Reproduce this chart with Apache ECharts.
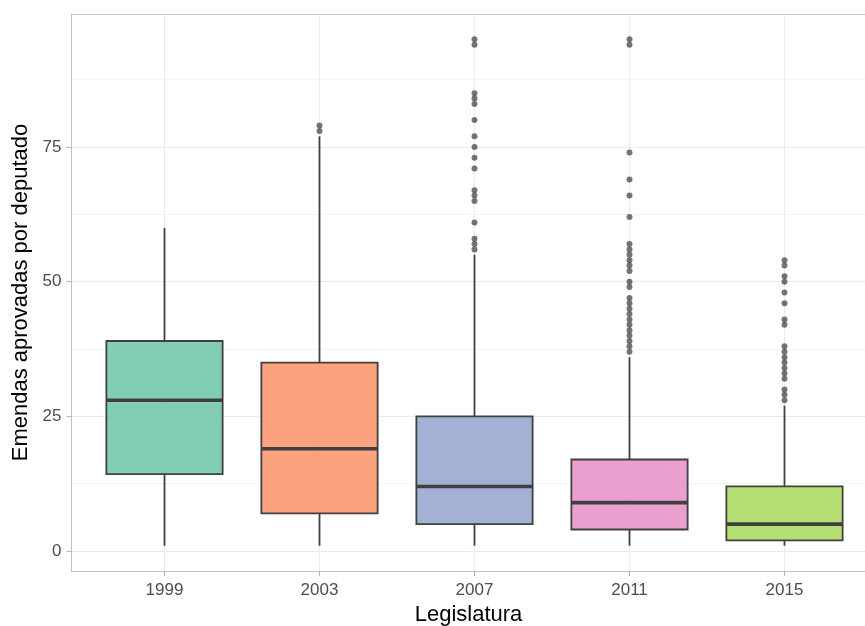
<!DOCTYPE html>
<html>
<head>
<meta charset="utf-8">
<script src="https://cdn.jsdelivr.net/npm/echarts@6/dist/echarts.min.js"></script>
<style>html,body{margin:0;padding:0;background:#fff;}#c{width:865px;height:626px;}</style>
</head>
<body>
<div id="c"></div>
<script>
// ---- data ----
const years = ['1999', '2003', '2007', '2011', '2015'];
const lowerWhisker = [1, 1, 1, 1, 1];
const q1 = [14.3, 7, 5, 4, 2];
const median = [28, 19, 12, 9, 5];
const q3 = [39, 35, 25, 17, 12];
const upperWhisker = [60, 77, 55, 36, 27];
const outliers1999 = [];
const outliers2003 = [79, 78];
const outliers2007 = [95, 94, 85, 84, 83, 80, 77, 75, 73, 71, 67, 66, 65, 61, 58, 57, 56];
const outliers2011 = [95, 94, 74, 69, 66, 62, 57, 56, 55, 54, 53, 52, 50, 49, 47, 46, 45, 44, 43, 42, 41, 40, 39, 38, 37];
const outliers2015 = [54, 53, 51, 50, 48, 46, 43, 42, 38, 37, 36, 35, 34, 33, 32, 30, 29, 28];
const yTicks = [0, 25, 50, 75];
const yMinorGrid = [12.5, 37.5, 62.5, 87.5];

// ---- styles ----
const fills = ['rgba(102,194,165,0.82)', 'rgba(252,141,98,0.82)', 'rgba(141,160,203,0.82)', 'rgba(231,138,195,0.82)', 'rgba(166,216,84,0.82)'];
const edge = '#404040';
const borderColor = '#c2c2c2';
const font = '"Liberation Sans", Arial, sans-serif';

const positions = years.map((y, i) => i + 1);
const boxData = years.map((y, i) => [positions[i], lowerWhisker[i], q1[i], median[i], q3[i], upperWhisker[i]]);
const outlierLists = [outliers1999, outliers2003, outliers2007, outliers2011, outliers2015];
const outlierData = [];
outlierLists.forEach((arr, i) => arr.forEach(v => outlierData.push([positions[i], v])));

const gridMarks = [];
yTicks.forEach(v => gridMarks.push({ yAxis: v, lineStyle: { color: '#ebebeb', width: 1, type: 'solid' } }));
yMinorGrid.forEach(v => gridMarks.push({ yAxis: v, lineStyle: { color: '#f3f3f3', width: 1, type: 'solid' } }));
positions.forEach(p => gridMarks.push({ xAxis: p, lineStyle: { color: '#ebebeb', width: 1, type: 'solid' } }));

const xMin = 0.4, xMax = 5.5226;

const chart = echarts.init(document.getElementById('c'), null, { renderer: 'canvas' });
chart.setOption({
  animation: false,
  backgroundColor: '#ffffff',
  textStyle: { fontFamily: font },
  grid: { left: 71.5, width: 794, top: 14, bottom: 55, show: false, containLabel: false, outerBoundsMode: 'none' },
  xAxis: [{
    type: 'value',
    min: xMin,
    max: xMax,
    axisLine: { show: true, onZero: false, lineStyle: { color: borderColor, width: 1 } },
    axisTick: { show: true, length: 5, lineStyle: { color: '#b3b3b3' }, customValues: positions },
    axisLabel: { color: '#4d4d4d', fontSize: 17, margin: 11, fontFamily: font, customValues: positions,
      formatter: v => years[Math.round(v) - 1] },
    splitLine: { show: false },
    name: 'Legislatura',
    nameLocation: 'middle',
    nameGap: 28,
    nameTextStyle: { color: '#000', fontSize: 22, fontFamily: font }
  }, {
    type: 'value',
    position: 'top',
    min: xMin,
    max: xMax,
    axisLine: { show: true, onZero: false, lineStyle: { color: borderColor, width: 1 } },
    axisTick: { show: false },
    axisLabel: { show: false },
    splitLine: { show: false }
  }],
  yAxis: {
    type: 'value',
    min: -3.7,
    max: 99.7,
    axisLine: { show: true, onZero: false, lineStyle: { color: borderColor, width: 1 } },
    axisTick: { show: true, length: 5, lineStyle: { color: '#b3b3b3' }, customValues: yTicks },
    axisLabel: { color: '#4d4d4d', fontSize: 17, margin: 10, fontFamily: font, customValues: yTicks },
    splitLine: { show: false },
    name: 'Emendas aprovadas por deputado',
    nameLocation: 'middle',
    nameRotate: 90,
    nameGap: 36,
    nameTextStyle: { color: '#000', fontSize: 22, fontFamily: font }
  },
  series: [
    {
      type: 'scatter',
      data: [],
      z: 0,
      silent: true,
      markLine: { z: 0, silent: true, symbol: ['none', 'none'], label: { show: false }, animation: false, data: gridMarks }
    },
    {
      type: 'custom',
      z: 3,
      data: boxData,
      renderItem: function (params, api) {
        const p = api.value(0);
        const lo = api.coord([p, api.value(1)]);
        const b1 = api.coord([p, api.value(2)]);
        const md = api.coord([p, api.value(3)]);
        const b3 = api.coord([p, api.value(4)]);
        const hi = api.coord([p, api.value(5)]);
        const w = api.size([0.75, 0])[0];
        const x = lo[0];
        return {
          type: 'group',
          children: [
            { type: 'line', shape: { x1: x, y1: lo[1], x2: x, y2: b1[1] }, style: { stroke: edge, lineWidth: 1.8 } },
            { type: 'line', shape: { x1: x, y1: b3[1], x2: x, y2: hi[1] }, style: { stroke: edge, lineWidth: 1.8 } },
            { type: 'rect', shape: { x: x - w / 2, y: b3[1], width: w, height: b1[1] - b3[1] }, style: { fill: fills[params.dataIndex], stroke: edge, lineWidth: 1.8 } },
            { type: 'line', shape: { x1: x - w / 2, y1: md[1], x2: x + w / 2, y2: md[1] }, style: { stroke: edge, lineWidth: 3.6 } }
          ]
        };
      }
    },
    {
      type: 'scatter',
      z: 4,
      data: outlierData,
      symbol: 'circle',
      symbolSize: 6,
      itemStyle: { color: 'rgba(51,51,51,0.85)' }
    }
  ]
});
</script>
</body>
</html>
